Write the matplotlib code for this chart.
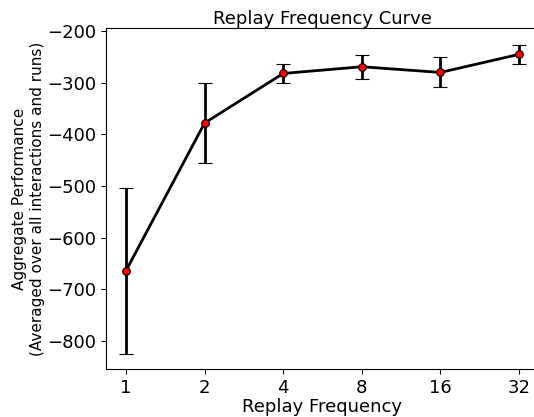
import matplotlib
matplotlib.use("Agg")
import matplotlib.pyplot as plt

categories = ["1", "2", "4", "8", "16", "32"]
means = [-664, -378, -282, -269, -280, -245]
errors = [160, 78, 19, 23, 29, 19]

W, H = 534, 417
fig = plt.figure(figsize=(W / 100, H / 100), dpi=100)
ax = fig.add_axes([106.3 / W, (H - 369) / H, (538.7 - 106.3) / W, (369 - 28) / H])

x = list(range(len(categories)))
ax.errorbar(x, means, yerr=errors, color="black", lw=2, elinewidth=2,
            capsize=5, capthick=1.8, marker="o", markersize=5.5,
            markerfacecolor="red", markeredgecolor="black", markeredgewidth=0.8)
ax.set_xticks(x)
ax.set_xticklabels(categories)
ax.set_ylim(-854, -194)
ax.set_yticks([-800, -700, -600, -500, -400, -300, -200])
ax.tick_params(labelsize=13)
ax.set_xlabel("Replay Frequency", fontsize=13, labelpad=1)
ax.set_ylabel("Aggregate Performance\n(Averaged over all interactions and runs)", fontsize=11, labelpad=2)
ax.set_title("Replay Frequency Curve", fontsize=13, pad=3)
ax.spines["right"].set_visible(False)

fig.savefig("out.png", dpi=100)
